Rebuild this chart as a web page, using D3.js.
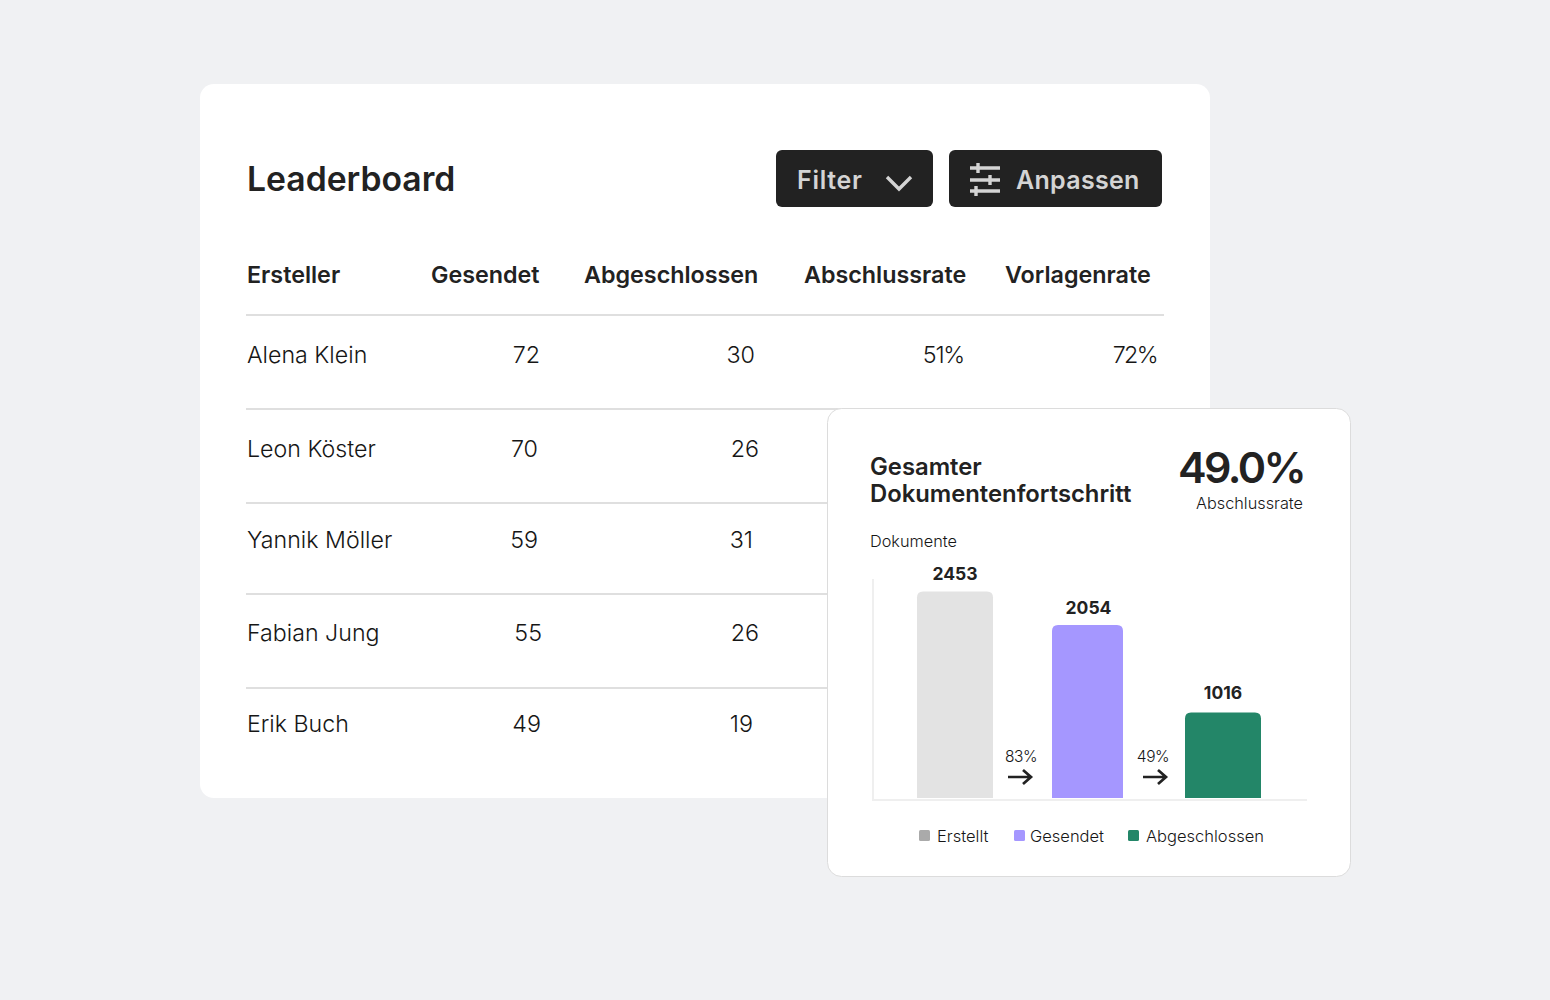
<!DOCTYPE html>
<html>
<head>
<meta charset="utf-8">
<script src="https://cdn.jsdelivr.net/npm/d3@7"></script>
<style>
  html, body { margin: 0; padding: 0; background: #f0f1f3; }
  svg { display: block; }
  text { font-family: Inter, "Noto Sans", sans-serif; fill: #222222; }
</style>
</head>
<body>
<div id="chart"></div>
<script>
// Données du tableau
const columns = ["Ersteller", "Gesendet", "Abgeschlossen", "Abschlussrate", "Vorlagenrate"]
const creators = ["Alena Klein", "Leon Köster", "Yannik Möller", "Fabian Jung", "Erik Buch"]
const sent = [72, 70, 59, 55, 49]
const completed = [30, 26, 31, 26, 19]
const completionRate = ["51%"]
const templateRate = ["72%"]

// Données du graphique
const stages = ["Erstellt", "Gesendet", "Abgeschlossen"]
const documents = [2453, 2054, 1016]
const conversions = ["83%", "49%"]

const barColor = d3.scaleOrdinal().domain(stages).range(["#e3e3e3", "#a597ff", "#238668"])
const legendColor = d3.scaleOrdinal().domain(stages).range(["#aaaaaa", "#a597ff", "#238668"])

const bodyInk = "#161616"

const svg = d3.select("#chart").append("svg").attr("width", 1550).attr("height", 1000)

// Carte du leaderboard
svg.append("rect").attr("x", 200).attr("y", 84).attr("width", 1010).attr("height", 714)
  .attr("rx", 14).attr("fill", "#fff")

svg.append("text").text("Leaderboard").attr("x", 247).attr("y", 191)
  .attr("font-size", 33.7).attr("font-weight", 600)

// Boutons
const btns = svg.append("g")
btns.append("rect").attr("x", 776).attr("y", 150).attr("width", 157).attr("height", 57).attr("rx", 6).attr("fill", "#222")
btns.append("rect").attr("x", 949).attr("y", 150).attr("width", 213).attr("height", 57).attr("rx", 6).attr("fill", "#222")
btns.append("text").text("Filter").attr("x", 797).attr("y", 189)
  .attr("font-size", 25).attr("font-weight", 600).style("fill", "#d4d4d4").style("letter-spacing", "0.7px")
btns.append("text").text("Anpassen").attr("x", 1016).attr("y", 189)
  .attr("font-size", 25).attr("font-weight", 600).style("fill", "#d4d4d4").style("letter-spacing", "0.3px")
btns.append("path").attr("d", "M887 177 L899 189 L911 177").attr("fill", "none")
  .attr("stroke", "#d4d4d4").attr("stroke-width", 3.4)
btns.append("path")
  .attr("d", "M970 168 H1000 M978 163 V173 M970 180 H1000 M990 175 V185 M970 191 H1000 M976 186 V196")
  .attr("fill", "none").attr("stroke", "#d4d4d4").attr("stroke-width", 3.4)

// En-tête du tableau
const headerX = [247, 431, 584, 804, 1005]
svg.selectAll("text.head").data(columns).enter().append("text")
  .attr("class", "head").text(d => d)
  .attr("x", (d, i) => headerX[i]).attr("y", 283)
  .attr("font-size", 23.3).attr("font-weight", 600)

// Lignes du tableau
const ruleY = [315, 409, 503, 594, 688]
svg.selectAll("line.rule").data(ruleY).enter().append("line")
  .attr("class", "rule").attr("x1", 246).attr("x2", 1164)
  .attr("y1", d => d).attr("y2", d => d)
  .attr("stroke", "#dfdfdf").attr("stroke-width", 2)

const rowY = [363, 457, 548, 641, 732]
const sentEnd = [540, 538, 538, 542, 541]
const completedEnd = [755, 759, 753, 759, 753]

svg.selectAll("text.name").data(creators).enter().append("text")
  .attr("class", "name").text(d => d)
  .attr("x", 247).attr("y", (d, i) => rowY[i])
  .attr("font-size", 23.2).attr("font-weight", 300).style("fill", bodyInk)
svg.selectAll("text.sent").data(sent).enter().append("text")
  .attr("class", "sent").text(d => d).attr("text-anchor", "end")
  .attr("x", (d, i) => sentEnd[i]).attr("y", (d, i) => rowY[i])
  .attr("font-size", 23.3).attr("font-weight", 300).style("fill", bodyInk)
svg.selectAll("text.done").data(completed).enter().append("text")
  .attr("class", "done").text(d => d).attr("text-anchor", "end")
  .attr("x", (d, i) => completedEnd[i]).attr("y", (d, i) => rowY[i])
  .attr("font-size", 23.3).attr("font-weight", 300).style("fill", bodyInk)
svg.selectAll("text.rate").data(completionRate).enter().append("text")
  .attr("class", "rate").text(d => d).attr("text-anchor", "end")
  .attr("x", 964).attr("y", rowY[0])
  .attr("font-size", 23.3).attr("font-weight", 300).style("letter-spacing", "-1.2px").style("fill", bodyInk)
svg.selectAll("text.tpl").data(templateRate).enter().append("text")
  .attr("class", "tpl").text(d => d).attr("text-anchor", "end")
  .attr("x", 1157).attr("y", rowY[0])
  .attr("font-size", 23.3).attr("font-weight", 300).style("letter-spacing", "-1.6px").style("fill", bodyInk)

// Carte du graphique
svg.append("rect").attr("x", 827.5).attr("y", 408.5).attr("width", 523).attr("height", 468)
  .attr("rx", 14).attr("fill", "#fff").attr("stroke", "#dcdcdc")

svg.append("text").text("Gesamter").attr("x", 870).attr("y", 475)
  .attr("font-size", 23.8).attr("font-weight", 600)
svg.append("text").text("Dokumentenfortschritt").attr("x", 870).attr("y", 502)
  .attr("font-size", 23.8).attr("font-weight", 600)
svg.append("text").text("49.0%").attr("x", 1304).attr("y", 483).attr("text-anchor", "end")
  .attr("font-size", 43).attr("font-weight", 600).style("letter-spacing", "-2.6px")
svg.append("text").text("Abschlussrate").attr("x", 1303).attr("y", 509).attr("text-anchor", "end")
  .attr("font-size", 16.3).attr("font-weight", 300).style("fill", bodyInk)
svg.append("text").text("Dokumente").attr("x", 870).attr("y", 547)
  .attr("font-size", 16.3).attr("font-weight", 300).style("fill", bodyInk)

// Échelles
const y = d3.scaleLinear().domain([0, 2453]).range([798, 591.5])
const barLeft = d3.scaleOrdinal().domain(stages).range([917, 1052, 1185])
const barWidth = d3.scaleOrdinal().domain(stages).range([76, 71, 76])

// Axes
svg.append("line").attr("x1", 873).attr("x2", 873).attr("y1", 579).attr("y2", 800)
  .attr("stroke", "#efefef").attr("stroke-width", 2)
svg.append("line").attr("x1", 872).attr("x2", 1307).attr("y1", 800).attr("y2", 800)
  .attr("stroke", "#efefef").attr("stroke-width", 2)

// Barres, coins du haut arrondis
svg.selectAll("path.bar").data(documents).enter().append("path")
  .attr("class", "bar")
  .attr("fill", (d, i) => barColor(stages[i]))
  .attr("d", (d, i) => {
    const x0 = barLeft(stages[i]), w = barWidth(stages[i]), top = y(d), r = 6
    return `M${x0} ${y(0)} V${top + r} Q${x0} ${top} ${x0 + r} ${top} H${x0 + w - r} Q${x0 + w} ${top} ${x0 + w} ${top + r} V${y(0)} Z`
  })

const labelGap = [11.5, 11, 13]
svg.selectAll("text.val").data(documents).enter().append("text")
  .attr("class", "val").text(d => d).attr("text-anchor", "middle")
  .attr("x", (d, i) => barLeft(stages[i]) + barWidth(stages[i]) / 2 + (i == 1 ? 1 : 0))
  .attr("y", (d, i) => y(d) - labelGap[i])
  .attr("font-size", 17.5).attr("font-weight", 700)

// Flèches de conversion
const conversionX = [1021, 1153]
const arrowX = [1008, 1143]
svg.selectAll("text.conv").data(conversions).enter().append("text")
  .attr("class", "conv").text(d => d).attr("text-anchor", "middle")
  .attr("x", (d, i) => conversionX[i]).attr("y", 762)
  .attr("font-size", 15.5).attr("font-weight", 300).style("letter-spacing", "-0.4px").style("fill", bodyInk)
svg.selectAll("path.arrow").data(conversions).enter().append("path")
  .attr("class", "arrow").attr("fill", "none").attr("stroke", "#222").attr("stroke-width", 2.7)
  .attr("d", (d, i) => `M${arrowX[i]} 777 H${arrowX[i] + 23} M${arrowX[i] + 15} 770 L${arrowX[i] + 23} 777 L${arrowX[i] + 15} 784`)

// Légende
const legendSwatch = [919, 1014, 1128]
const legendText = [937, 1030, 1146]
svg.selectAll("rect.leg").data(stages).enter().append("rect")
  .attr("class", "leg").attr("x", (d, i) => legendSwatch[i]).attr("y", 830)
  .attr("width", 11).attr("height", 11).attr("rx", 1.5).attr("fill", d => legendColor(d))
svg.selectAll("text.leg").data(stages).enter().append("text")
  .attr("class", "leg").text(d => d)
  .attr("x", (d, i) => legendText[i]).attr("y", 842)
  .attr("font-size", 16.5).attr("font-weight", 300).style("fill", bodyInk)
</script>
</body>
</html>
